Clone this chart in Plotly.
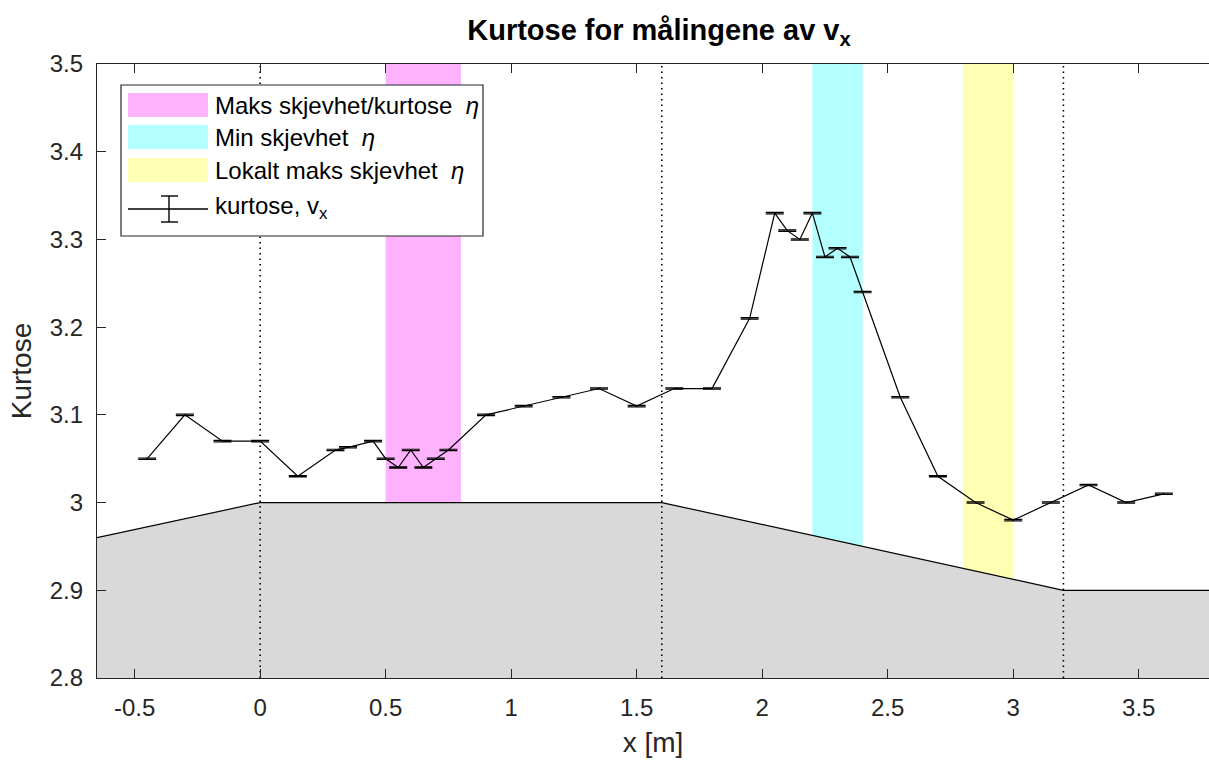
import numpy as np
import plotly.graph_objects as go

# Measured kurtosis of v_x along the flume
x_pos = [-0.45, -0.30, -0.15, 0.00, 0.15, 0.30, 0.35, 0.45, 0.50, 0.55, 0.60, 0.65,
         0.70, 0.75, 0.90, 1.05, 1.20, 1.35, 1.50, 1.65, 1.80, 1.95, 2.05, 2.10,
         2.15, 2.20, 2.25, 2.30, 2.35, 2.40, 2.55, 2.70, 2.85, 3.00, 3.15, 3.30,
         3.45, 3.60]
kurtosis = [3.05, 3.10, 3.07, 3.07, 3.03, 3.06, 3.063, 3.07, 3.05, 3.04, 3.06, 3.04,
            3.05, 3.06, 3.10, 3.11, 3.12, 3.13, 3.11, 3.13, 3.13, 3.21, 3.33, 3.31,
            3.30, 3.33, 3.28, 3.29, 3.28, 3.24, 3.12, 3.03, 3.00, 2.98, 3.00, 3.02,
            3.00, 3.01]
kurtosis_err = [0.0008] * len(x_pos)

# Bottom profile (scaled to the kurtosis axis)
bottom_x = [-0.65, 0.0, 1.6, 3.2, 3.78]
bottom_y = [2.96, 3.0, 3.0, 2.9, 2.9]

# Marked regions
bands = [
    ("Maks skjevhet/kurtose", 0.5, 0.8, "#FFB3FF"),
    ("Min skjevhet", 2.2, 2.4, "#B3FFFF"),
    ("Lokalt maks skjevhet", 2.8, 3.0, "#FFFFB3"),
]

# Section boundaries
section_x = [0.0, 1.6, 3.2]

x_range = [-0.65, 3.78]
y_range = [2.8, 3.5]
x_ticks = [-0.5, 0, 0.5, 1, 1.5, 2, 2.5, 3, 3.5]
x_tick_text = ["-0.5", "0", "0.5", "1", "1.5", "2", "2.5", "3", "3.5"]
y_ticks = [2.8, 2.9, 3.0, 3.1, 3.2, 3.3, 3.4, 3.5]
y_tick_text = ["2.8", "2.9", "3", "3.1", "3.2", "3.3", "3.4", "3.5"]

FONT = "Liberation Sans, Arial, sans-serif"
INK = "#262626"
W, H = 1209, 761
ML, MR, MT, MB = 97, 0, 64, 83

fig = go.Figure()

# shaded bands from the bottom profile up to the top of the axes
for name, x0, x1, col in bands:
    bx = np.linspace(x0, x1, 20)
    by = np.interp(bx, bottom_x, bottom_y)
    px = list(bx) + [x1, x0]
    py = list(by) + [y_range[1], y_range[1]]
    fig.add_trace(go.Scatter(x=px, y=py, fill="toself", fillcolor=col,
                             line=dict(width=0), mode="lines",
                             hoverinfo="skip", showlegend=False))

# bottom profile
fig.add_trace(go.Scatter(x=bottom_x, y=bottom_y, fill="tozeroy",
                         fillcolor="#D9D9D9", mode="lines",
                         line=dict(color="black", width=1.2),
                         hoverinfo="skip", showlegend=False))

# dotted section lines
for sx in section_x:
    fig.add_trace(go.Scatter(x=[sx, sx], y=y_range, mode="lines",
                             line=dict(color="black", width=1.6, dash="1.5px,4px"),
                             hoverinfo="skip", showlegend=False))

# kurtosis curve with error bars
fig.add_trace(go.Scatter(x=x_pos, y=kurtosis, mode="lines",
                         line=dict(color="black", width=1.2),
                         error_y=dict(type="data", array=kurtosis_err, visible=True,
                                      color="black", thickness=1.2, width=9),
                         showlegend=False))


def px2paper(px, py):
    return (px - ML) / (W - ML - MR), (H - MB - py) / (H - MT - MB)


shapes = []
annotations = []

# legend box
lx0, ly0 = px2paper(121, 236)
lx1, ly1 = px2paper(483, 85)
shapes.append(dict(type="rect", xref="paper", yref="paper", x0=lx0, y0=ly0,
                   x1=lx1, y1=ly1, fillcolor="white",
                   line=dict(color=INK, width=1.2), layer="above"))
rows_y = [105, 137, 170]
for (name, _, _, col), ry in zip(bands, rows_y):
    a0 = px2paper(128, ry + 12)
    a1 = px2paper(208, ry - 12)
    shapes.append(dict(type="rect", xref="paper", yref="paper", x0=a0[0], y0=a0[1],
                       x1=a1[0], y1=a1[1], fillcolor=col, line=dict(width=0),
                       layer="above"))
    tx, ty = px2paper(213, ry)
    annotations.append(dict(xref="paper", yref="paper", x=tx, y=ty,
                            text=name + "  <i>η</i>", showarrow=False,
                            xanchor="left", yanchor="middle",
                            font=dict(family=FONT, size=24, color="black")))
# error-bar entry
ey = 209
p0 = px2paper(128, ey)
p1 = px2paper(208, ey)
shapes.append(dict(type="line", xref="paper", yref="paper", x0=p0[0], y0=p0[1],
                   x1=p1[0], y1=p1[1], line=dict(color="black", width=1.4),
                   layer="above"))
v0 = px2paper(169, ey - 13)
v1 = px2paper(169, ey + 13)
shapes.append(dict(type="line", xref="paper", yref="paper", x0=v0[0], y0=v0[1],
                   x1=v1[0], y1=v1[1], line=dict(color="black", width=1.4),
                   layer="above"))
for cy in (ey - 13, ey + 13):
    c0 = px2paper(161, cy)
    c1 = px2paper(178, cy)
    shapes.append(dict(type="line", xref="paper", yref="paper", x0=c0[0], y0=c0[1],
                       x1=c1[0], y1=c1[1], line=dict(color="black", width=1.4),
                       layer="above"))
tx, ty = px2paper(213, ey - 2)
annotations.append(dict(xref="paper", yref="paper", x=tx, y=ty,
                        text="kurtose, v<sub>x</sub>", showarrow=False,
                        xanchor="left", yanchor="middle",
                        font=dict(family=FONT, size=24, color="black")))

fig.update_layout(
    width=W, height=H,
    margin=dict(l=ML, r=MR, t=MT, b=MB, pad=0),
    paper_bgcolor="white", plot_bgcolor="white",
    showlegend=False,
    title=dict(text="<b>Kurtose for målingene av v<sub>x</sub></b>",
               x=659 / W, xref="container", xanchor="center",
               y=1 - 30 / H, yref="container", yanchor="middle",
               font=dict(family=FONT, size=29, color="black")),
    shapes=shapes,
    annotations=annotations,
    xaxis=dict(range=x_range, tickvals=x_ticks, ticktext=x_tick_text,
               showgrid=False, zeroline=False, showline=True, linecolor=INK,
               linewidth=1.2, mirror="ticks", ticks="inside", ticklen=9,
               tickcolor=INK, tickwidth=1, ticklabelstandoff=8,
               tickfont=dict(family=FONT, size=24, color=INK),
               title=dict(text="x [m]", standoff=12,
                          font=dict(family=FONT, size=28, color=INK))),
    yaxis=dict(range=y_range, tickvals=y_ticks, ticktext=y_tick_text,
               showgrid=False, zeroline=False, showline=True, linecolor=INK,
               linewidth=1.2, mirror=False, ticks="inside", ticklen=9,
               tickcolor=INK, tickwidth=1, ticklabelstandoff=8,
               tickfont=dict(family=FONT, size=24, color=INK),
               title=dict(text="Kurtose", standoff=9,
                          font=dict(family=FONT, size=28, color=INK))),
)

fig.write_html("out.html")
